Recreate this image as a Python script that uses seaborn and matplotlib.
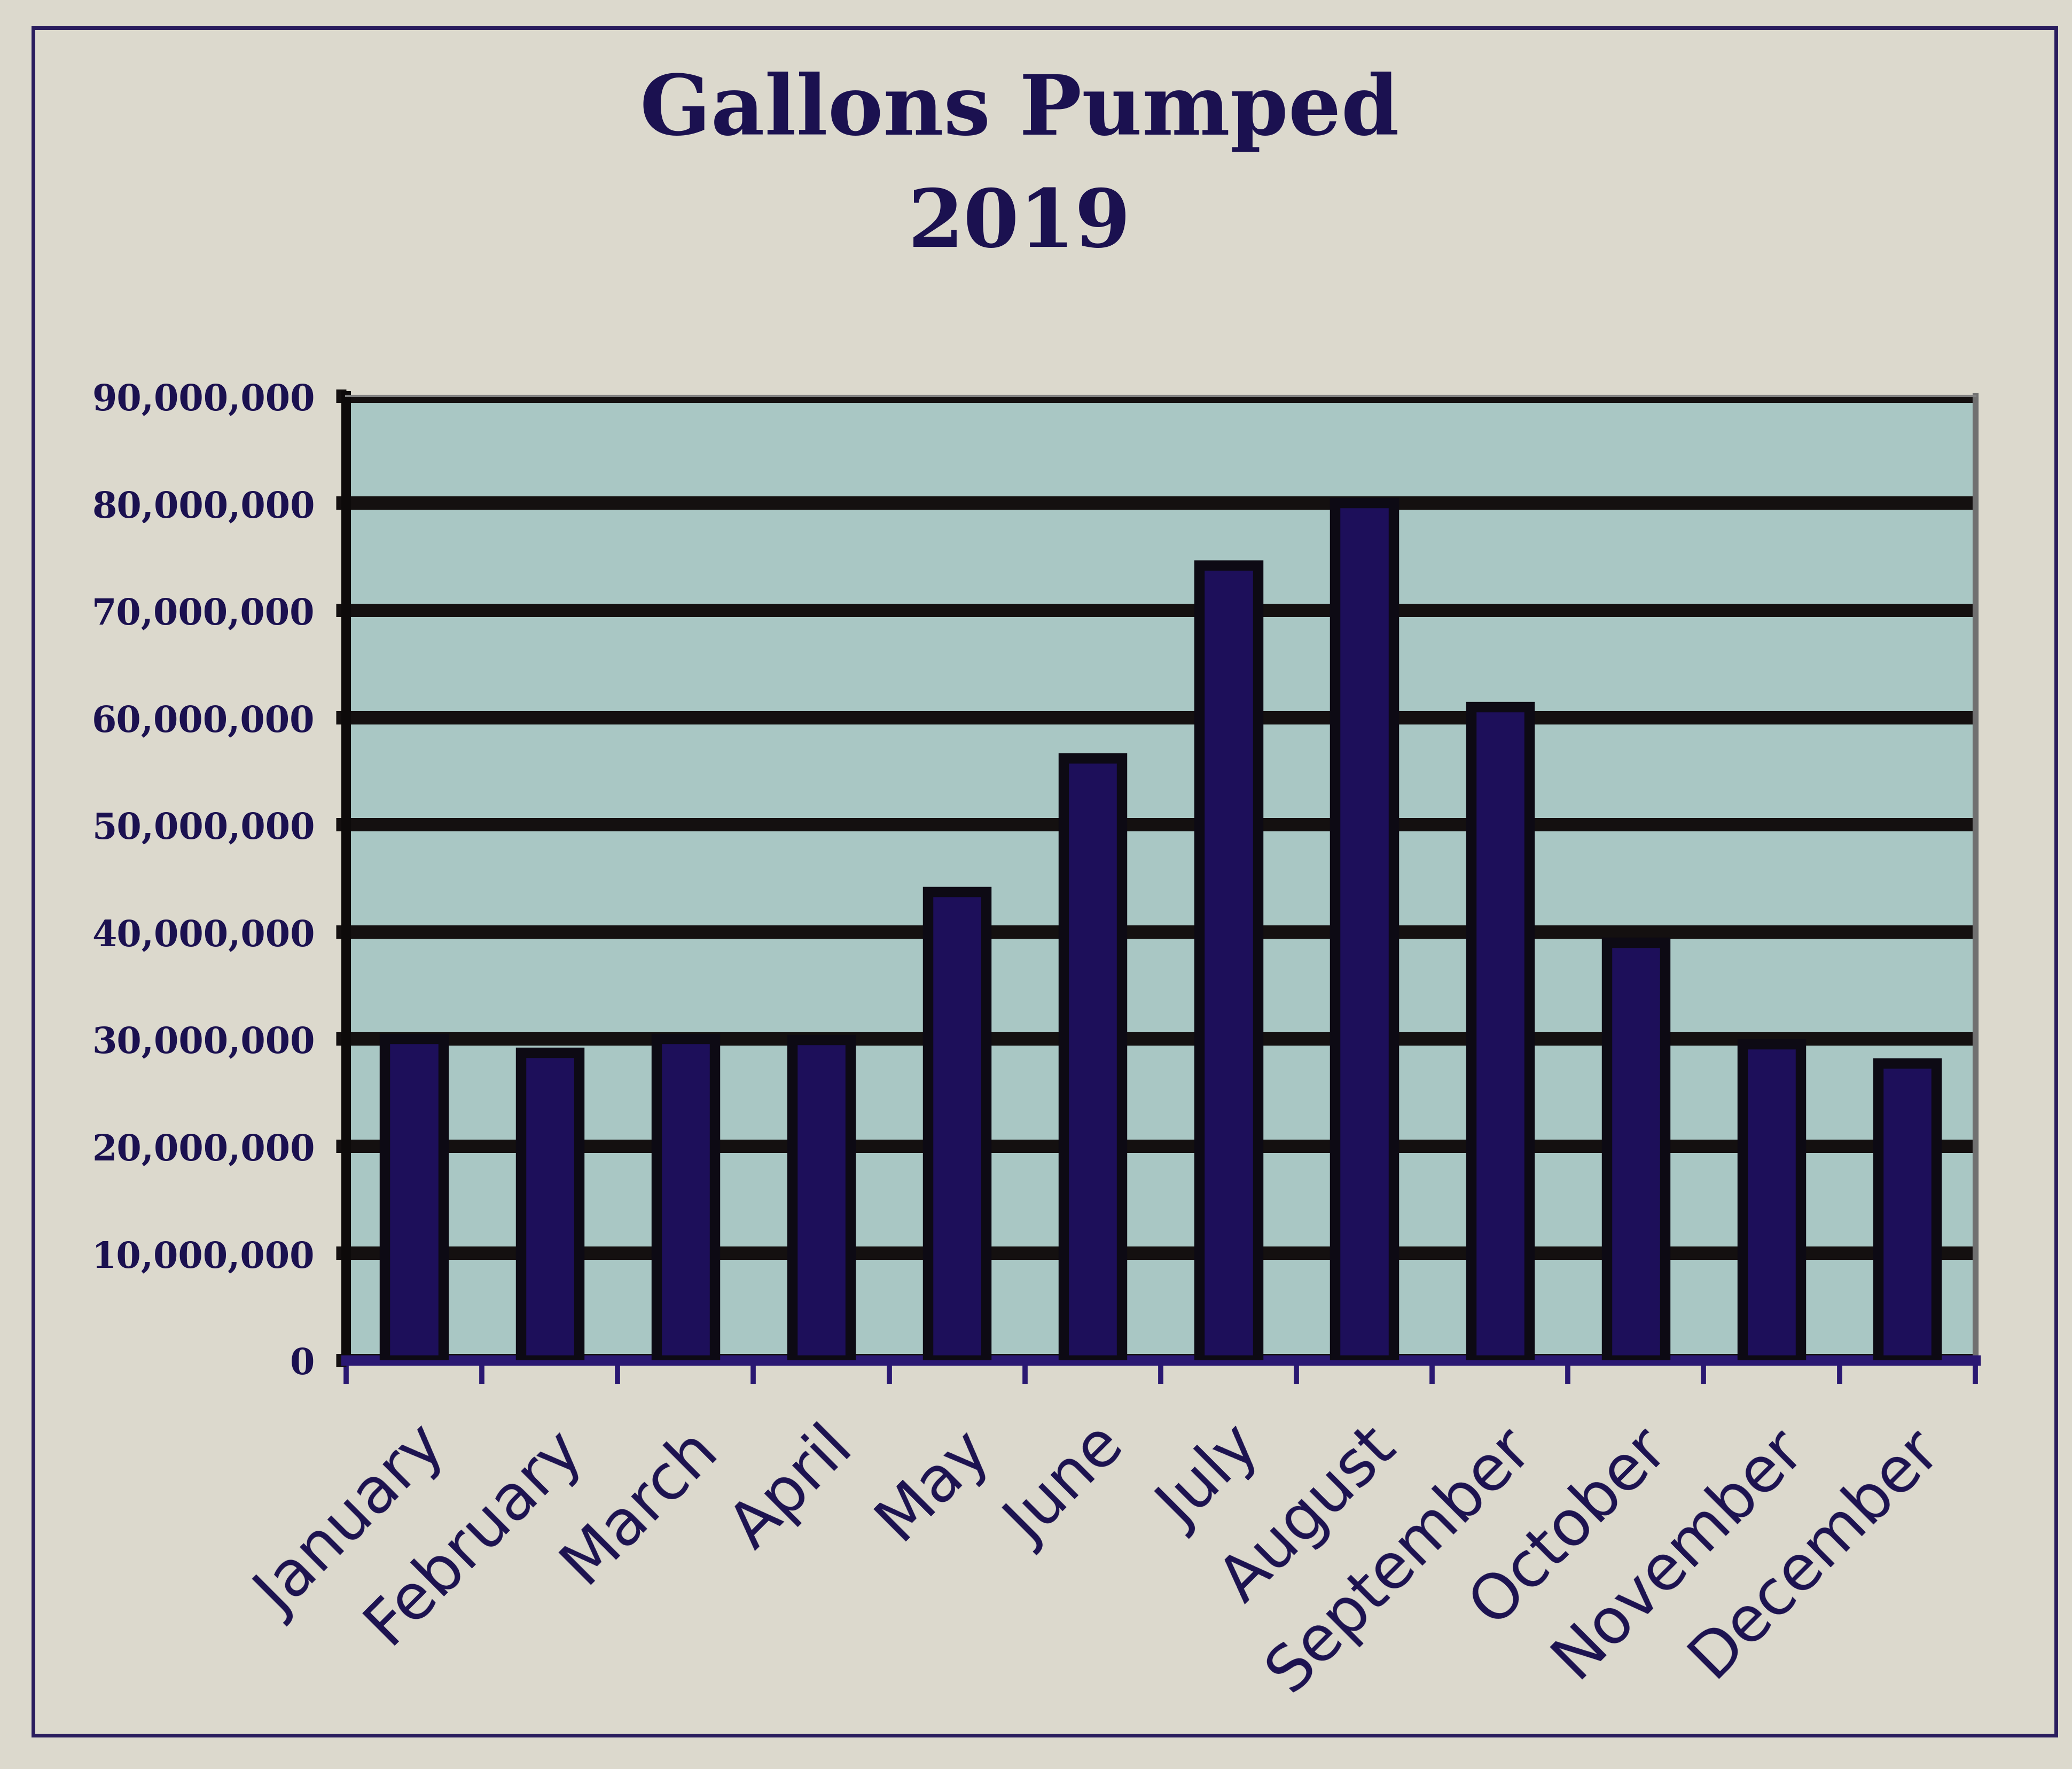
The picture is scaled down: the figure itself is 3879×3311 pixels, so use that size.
import matplotlib
matplotlib.use("Agg")
import matplotlib.pyplot as plt
import matplotlib.ticker as mticker
from matplotlib.patches import Rectangle
import seaborn as sns

# data (gallons)
months = ["January", "February", "March", "April", "May", "June", "July",
          "August", "September", "October", "November", "December"]
gallons = [30.0e6, 28.7e6, 30.0e6, 29.9e6, 43.7e6, 56.2e6, 74.2e6,
           80.0e6, 61.0e6, 39.0e6, 29.5e6, 27.7e6]
y_ticks = [0, 10e6, 20e6, 30e6, 40e6, 50e6, 60e6, 70e6, 80e6, 90e6]

paper = "#dcd9cd"
panel = "#a9c7c4"
ink = "#1b1150"
bar_color = "#1d0f5a"

sns.set_style("white")

fig = plt.figure(figsize=(38.8, 33.12), dpi=100, facecolor=paper)
ax = fig.add_axes([0.167, 0.231, 0.786, 0.545])
ax.set_facecolor(panel)

sns.barplot(x=months, y=gallons, color=bar_color, saturation=1,
            width=0.43, edgecolor="#0d0a14", linewidth=14, ax=ax, zorder=3)

ax.set_xlim(-0.5, len(months) - 0.5)
ax.set_ylim(0, 90e6)
ax.set_yticks(y_ticks)
ax.yaxis.set_major_formatter(mticker.FuncFormatter(lambda v, p: f"{int(v):,}"))
ax.set_axisbelow(True)
ax.grid(axis="y", color="#141010", linewidth=18)
ax.grid(axis="x", visible=False)

# y axis
ax.tick_params(axis="y", left=True, length=14, width=18, color="#141010", pad=28,
               labelcolor=ink, labelsize=48)
for lab in ax.get_yticklabels():
    lab.set_fontfamily("DejaVu Serif")
    lab.set_fontweight("bold")

# x axis: boundary ticks, labels at centers
ax.set_xticks([i + 0.5 for i in range(-1, len(months))], minor=True)
ax.tick_params(axis="x", which="minor", bottom=True, length=32, width=7,
               color="#2a1872")
ax.tick_params(axis="x", which="major", bottom=True, length=0, pad=75,
               labelcolor=ink, labelsize=84)
ax.set_xticks(range(len(months)))
ax.set_xticklabels(months, rotation=45, ha="right", rotation_mode="anchor",
                   fontfamily="DejaVu Sans")
ax.set_xlabel("")
ax.set_ylabel("")

for side in ["left", "bottom", "right", "top"]:
    ax.spines[side].set_visible(True)
ax.spines["left"].set_color("#0d0a0a")
ax.spines["left"].set_linewidth(13)
ax.spines["bottom"].set_color("#2a1872")
ax.spines["bottom"].set_linewidth(14)
ax.spines["right"].set_color("#707070")
ax.spines["right"].set_linewidth(8)
ax.spines["top"].set_color("#808080")
ax.spines["top"].set_linewidth(3)

# title
fig.text(0.492, 0.937, "Gallons Pumped", ha="center", va="center",
         fontsize=112, fontweight="bold", fontfamily="DejaVu Serif", color=ink)
fig.text(0.492, 0.873, "2019", ha="center", va="center",
         fontsize=108, fontweight="bold", fontfamily="DejaVu Serif", color=ink)

# outer frame
fig.patches.append(Rectangle((0.016, 0.019), 0.976, 0.965, transform=fig.transFigure,
                             fill=False, edgecolor="#2a1d5e", linewidth=5))

fig.savefig("out.png", dpi=100, facecolor=paper)
